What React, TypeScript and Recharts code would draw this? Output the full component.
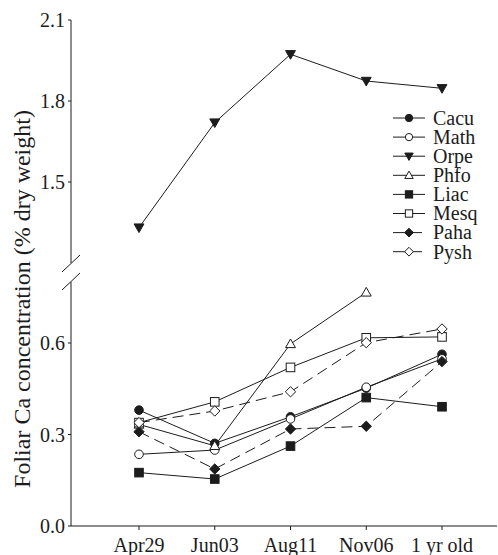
import React from "react";
import { LineChart, Line, XAxis, YAxis, Legend } from "recharts";

// sampling dates (x axis)
const categories = ["Apr29", "Jun03", "Aug11", "Nov06", "1 yr old"];

// foliar Ca, % dry weight, per species
const cacu = [0.38, 0.271, 0.358, 0.452, 0.563];
const math = [0.235, 0.249, 0.351, 0.455, 0.548];
const orpe = [1.331, 1.72, 1.973, 1.874, 1.847];
const phfo = [0.333, 0.263, 0.597, 0.766, null];
const liac = [0.175, 0.154, 0.262, 0.421, 0.391];
const mesq = [0.339, 0.407, 0.52, 0.617, 0.62];
const paha = [0.309, 0.187, 0.318, 0.327, 0.539];
const pysh = [0.339, 0.377, 0.44, 0.601, 0.646];

const upperTicks = [1.2, 1.5, 1.8, 2.1];
const lowerTicks = [0, 0.3, 0.6];

type Shape = "circle" | "triDown" | "triUp" | "square" | "diamond";

interface Series {
  name: string;
  values: (number | null)[];
  shape: Shape;
  filled: boolean;
  dashed: boolean;
}

const series: Series[] = [
  { name: "Cacu", values: cacu, shape: "circle", filled: true, dashed: false },
  { name: "Math", values: math, shape: "circle", filled: false, dashed: false },
  { name: "Orpe", values: orpe, shape: "triDown", filled: true, dashed: false },
  { name: "Phfo", values: phfo, shape: "triUp", filled: false, dashed: false },
  { name: "Liac", values: liac, shape: "square", filled: true, dashed: false },
  { name: "Mesq", values: mesq, shape: "square", filled: false, dashed: false },
  { name: "Paha", values: paha, shape: "diamond", filled: true, dashed: true },
  { name: "Pysh", values: pysh, shape: "diamond", filled: false, dashed: true },
];

const INK = "#1c1c1c";
const FONT = "Liberation Serif";
const DASH = "11 6";

const rows = categories.map((c, i) => {
  const row: Record<string, string | number | null> = { name: c };
  series.forEach((s) => {
    row[s.name] = s.values[i];
  });
  return row;
});

function Marker({ cx, cy, shape, filled, size = 1 }: { cx: number; cy: number; shape: Shape; filled: boolean; size?: number }) {
  const fill = filled ? INK : "#fff";
  const common = { fill, stroke: INK, strokeWidth: 1 };
  const r = 4.3 * size;
  switch (shape) {
    case "circle":
      return <circle cx={cx} cy={cy} r={r} {...common} />;
    case "square":
      return <rect x={cx - r} y={cy - r} width={r * 2} height={r * 2} {...common} />;
    case "diamond": {
      const d = r * 1.2;
      return <polygon points={`${cx},${cy - d} ${cx + d},${cy} ${cx},${cy + d} ${cx - d},${cy}`} {...common} />;
    }
    case "triUp": {
      const h = r * 1.15;
      return <polygon points={`${cx},${cy - h} ${cx + h},${cy + h * 0.75} ${cx - h},${cy + h * 0.75}`} {...common} />;
    }
    case "triDown": {
      const h = r * 1.15;
      return <polygon points={`${cx},${cy + h} ${cx + h},${cy - h * 0.75} ${cx - h},${cy - h * 0.75}`} {...common} />;
    }
  }
}

function dotFor(s: Series) {
  return (p: any) => {
    const key = `${s.name}-${p.index}`;
    if (p.cx == null || p.cy == null || p.value == null) return <g key={key} />;
    return (
      <g key={key}>
        <Marker cx={p.cx} cy={p.cy} shape={s.shape} filled={s.filled} />
      </g>
    );
  };
}

function LegendBox() {
  const rowH = 19.1;
  return (
    <svg width={110} height={rowH * series.length + 4} style={{ overflow: "visible" }}>
      {series.map((s, i) => {
        const y = 10 + i * rowH;
        return (
          <g key={s.name}>
            <line x1={0} x2={32} y1={y} y2={y} stroke={INK} strokeWidth={1} strokeDasharray={s.dashed ? "12 5" : undefined} />
            <Marker cx={16} cy={y} shape={s.shape} filled={s.filled} size={0.85} />
            <text x={40} y={y} dy="0.34em" style={{ fontSize: 20, fontFamily: FONT }} fill={INK}>
              {s.name}
            </text>
          </g>
        );
      })}
    </svg>
  );
}

const tickStyle = { fontSize: 20, fontFamily: FONT, fill: INK, style: { fontFamily: FONT } };
const fmt = (v: number) => v.toFixed(1);
const xPad = { left: 68, right: 55 };

export default function App() {
  const upper = series.filter((s) => s.name === "Orpe");
  const lower = series.filter((s) => s.name !== "Orpe");

  return (
    <div
      style={{
        position: "absolute",
        left: 0,
        top: 0,
        width: 498,
        height: 555,
        background: "#fff",
        fontFamily: FONT,
      }}
    >
      <div style={{ position: "absolute", left: 0, top: 0 }}>
        <LineChart width={498} height={263} data={rows} margin={{ top: 20, right: 1, bottom: 0, left: 0 }} style={{ fontFamily: FONT }}>
          <XAxis dataKey="name" hide padding={xPad} />
          <YAxis
            width={71}
            domain={[1.2, 2.1]}
            ticks={upperTicks}
            tickFormatter={fmt}
            tick={tickStyle}
            tickSize={3}
            tickMargin={3}
            stroke={INK}
            allowDataOverflow
          />
          <Legend
            layout="vertical"
            align="center"
            verticalAlign="middle"
            content={() => <LegendBox />}
            wrapperStyle={{ left: 393, top: 108, width: 110 }}
          />
          {upper.map((s) => (
            <Line
              key={s.name}
              dataKey={s.name}
              stroke={INK}
              strokeWidth={1}
              strokeDasharray={s.dashed ? DASH : undefined}
              dot={dotFor(s)}
              isAnimationActive={false}
            />
          ))}
        </LineChart>
      </div>

      <div style={{ position: "absolute", left: 0, top: 0 }}>
        <LineChart width={498} height={555} data={rows} margin={{ top: 282, right: 1, bottom: 0, left: 0 }} style={{ fontFamily: FONT }}>
          <XAxis
            dataKey="name"
            height={29}
            padding={xPad}
            tick={tickStyle}
            tickSize={4}
            tickMargin={8}
            stroke={INK}
            interval={0}
          />
          <YAxis
            width={71}
            domain={[0, 0.8]}
            ticks={lowerTicks}
            tickFormatter={fmt}
            tick={tickStyle}
            tickSize={3}
            tickMargin={3}
            stroke={INK}
            allowDataOverflow
          />
          {lower.map((s) => (
            <Line
              key={s.name}
              dataKey={s.name}
              stroke={INK}
              strokeWidth={1}
              strokeDasharray={s.dashed ? DASH : undefined}
              dot={dotFor(s)}
              isAnimationActive={false}
            />
          ))}
        </LineChart>
      </div>

      {/* axis break marks and the y axis title */}
      <svg width={498} height={555} style={{ position: "absolute", left: 0, top: 0, pointerEvents: "none" }}>
        <line x1={62} y1={272} x2={80} y2={255} stroke={INK} strokeWidth={1} />
        <line x1={62} y1={290} x2={80} y2={273} stroke={INK} strokeWidth={1} />
        <text
          transform="translate(22,299) rotate(-90)"
          textAnchor="middle"
          dy="0.35em"
          style={{ fontSize: 24, fontFamily: FONT }}
          fill={INK}
        >
          Foliar Ca concentration (% dry weight)
        </text>
      </svg>
    </div>
  );
}
